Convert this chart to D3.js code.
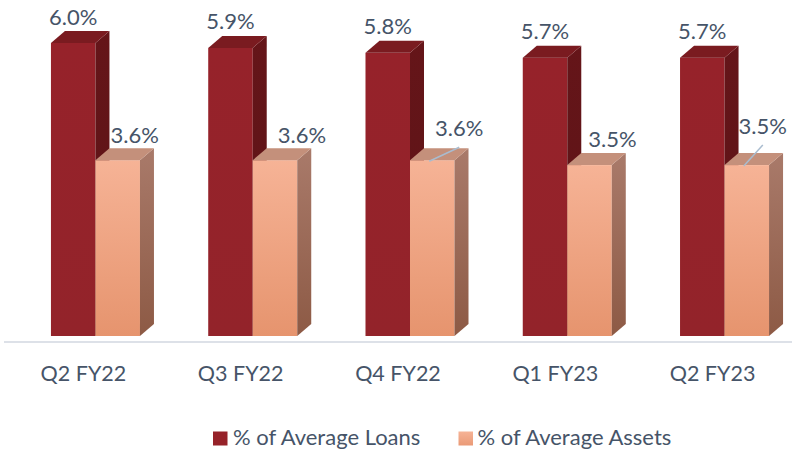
<!DOCTYPE html>
<html>
<head>
<meta charset="utf-8">
<script src="https://cdn.jsdelivr.net/npm/d3@7"></script>
<style>
  html, body { margin: 0; padding: 0; background: #ffffff; }
  svg { display: block; }
  text { font-family: Lato, "Open Sans", sans-serif; fill: #465468; }
</style>
</head>
<body>
<svg id="chart" width="800" height="452"></svg>
<script>
// Quarterly values, in percent
const categories = ["Q2 FY22", "Q3 FY22", "Q4 FY22", "Q1 FY23", "Q2 FY23"];
const seriesNames = ["% of Average Loans", "% of Average Assets"];
const loans = [6.0, 5.9, 5.8, 5.7, 5.7];
const assets = [3.6, 3.6, 3.6, 3.5, 3.5];

// Label placement for the assets series (offset from the bar's front-top centre)
const assetLabelLayout = [
  { dx: 17, dy: -17, leader: false },
  { dx: 27, dy: -17, leader: false },
  { dx: 27, dy: -24, leader: true },
  { dx: 23, dy: -18, leader: false },
  { dx: 16, dy: -31, leader: true }
];

const W = 800, H = 452;
const svg = d3.select("#chart");
svg.append("rect").attr("width", W).attr("height", H).attr("fill", "#ffffff");

const x0 = d3.scaleBand().domain(categories).range([25, 795])
  .paddingInner(0.434).paddingOuter(0.165);
const x1 = d3.scaleBand().domain(seriesNames).range([0, x0.bandwidth()]);
const y = d3.scaleLinear().domain([0, 6]).range([336, 43]);

// 3-D extrusion depth
const DX = 14, DY = -12;

const defs = svg.append("defs");
function vGrad(id, c0, c1) {
  const g = defs.append("linearGradient").attr("id", id)
    .attr("x1", 0).attr("y1", 0).attr("x2", 0).attr("y2", 1);
  g.append("stop").attr("offset", "0%").attr("stop-color", c0);
  g.append("stop").attr("offset", "100%").attr("stop-color", c1);
}
vGrad("loanFront", "#96222a", "#93232a");
vGrad("loanSide", "#651519", "#5c1316");
vGrad("assetFront", "#f6b396", "#e6946e");
vGrad("assetSide", "#a97a6a", "#8d5a45");
vGrad("legendAsset", "#f6b396", "#ea9a76");

const styles = {
  "% of Average Loans": { front: "url(#loanFront)", side: "url(#loanSide)", top: "#7a1b20", legend: "#962229" },
  "% of Average Assets": { front: "url(#assetFront)", side: "url(#assetSide)", top: "#c4907b", legend: "url(#legendAsset)" }
};

// Axis baseline
svg.append("line")
  .attr("x1", 4).attr("x2", 792)
  .attr("y1", 342).attr("y2", 342)
  .attr("stroke", "#dde1e8").attr("stroke-width", 2);

const rows = categories.map((c, i) => ({
  cat: c, i,
  bars: [
    { key: seriesNames[0], value: loans[i] },
    { key: seriesNames[1], value: assets[i] }
  ]
}));

const groups = svg.selectAll("g.cat").data(rows).join("g")
  .attr("class", "cat")
  .attr("transform", d => `translate(${x0(d.cat)},0)`);

const bw = x1.bandwidth();
groups.each(function (row) {
  const g = d3.select(this);
  row.bars.forEach(b => {
    const st = styles[b.key];
    const xl = x1(b.key), xr = xl + bw;
    const yt = y(b.value), yb = y(0);
    // front face
    g.append("rect").attr("x", xl).attr("y", yt).attr("width", bw).attr("height", yb - yt)
      .attr("fill", st.front);
    // right side face
    g.append("path")
      .attr("d", `M${xr},${yt}L${xr + DX},${yt + DY}L${xr + DX},${yb + DY}L${xr},${yb}Z`)
      .attr("fill", st.side);
    // top face
    g.append("path")
      .attr("d", `M${xl},${yt}L${xl + DX},${yt + DY}L${xr + DX},${yt + DY}L${xr},${yt}Z`)
      .attr("fill", st.top);
  });
});

// Value labels
groups.each(function (row) {
  const g = d3.select(this);
  // loans
  const lx = x1(seriesNames[0]) + bw / 2;
  g.append("text").attr("x", lx).attr("y", y(loans[row.i]) - 18.5)
    .attr("text-anchor", "middle").style("font-size", "22px")
    .text(d3.format(".1f")(loans[row.i]) + "%");
  // assets
  const lay = assetLabelLayout[row.i];
  const ax = x1(seriesNames[1]) + bw / 2;
  const ay = y(assets[row.i]);
  const tx = ax + lay.dx, ty = ay + lay.dy;
  if (lay.leader) {
    g.append("line")
      .attr("x1", ax - 3).attr("y1", ay + 1)
      .attr("x2", tx).attr("y2", ty + 11)
      .attr("stroke", "#a9bccf").attr("stroke-width", 1.5);
  }
  g.append("text").attr("x", tx).attr("y", ty)
    .attr("text-anchor", "middle").style("font-size", "22px")
    .text(d3.format(".1f")(assets[row.i]) + "%");
});

// Category labels
svg.selectAll("text.cat").data(categories).join("text")
  .attr("class", "cat")
  .attr("x", d => x0(d) + 32.5)
  .attr("y", 381)
  .attr("text-anchor", "middle")
  .style("font-size", "21.5px")
  .text(d => d);

// Legend
const legendPos = [{ sx: 213, tx: 233 }, { sx: 458.5, tx: 477.5 }];
const legend = svg.selectAll("g.legend").data(seriesNames).join("g").attr("class", "legend");
legend.append("rect")
  .attr("x", (d, i) => legendPos[i].sx).attr("y", 431.5)
  .attr("width", 14.5).attr("height", 14)
  .attr("fill", d => styles[d].legend);
legend.append("text")
  .attr("x", (d, i) => legendPos[i].tx).attr("y", 445)
  .style("font-size", "22px")
  .text(d => d);
</script>
</body>
</html>
